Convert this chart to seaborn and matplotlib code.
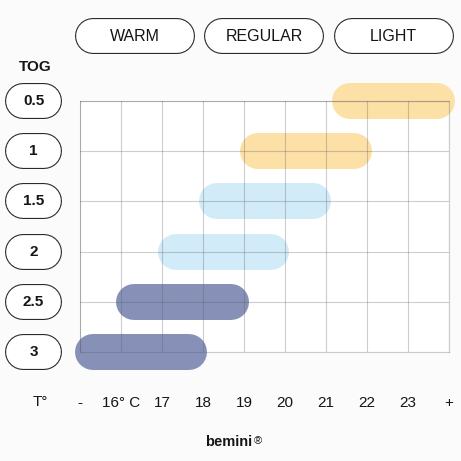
import matplotlib
matplotlib.use('Agg')
import matplotlib.pyplot as plt
import matplotlib.transforms as mtransforms
import seaborn as sns
import pandas as pd

# TOG rows, top to bottom, and the temperature span of each bar (visible edges, in °C scale)
tog_levels = ['0.5', '1', '1.5', '2', '2.5', '3']
temp_from = [21.15, 18.90, 17.90, 16.90, 15.88, 14.88]
temp_to = [24.15, 22.12, 21.12, 20.10, 19.12, 18.10]
weight = ['light', 'light', 'regular', 'regular', 'warm', 'warm']

# x axis: "-" and "+" sit at the ends of the scale
temp_ticks = [15, 16, 17, 18, 19, 20, 21, 22, 23, 24]
temp_labels = ['-', '16° C', '17', '18', '19', '20', '21', '22', '23', '+']

categories = ['WARM', 'REGULAR', 'LIGHT']

colors = {
    'warm': '#8791b8',
    'regular': '#d2ebf8',
    'light': '#fde0a6',
    'grid': '#5a5a5a',
    'ink': '#151515',
    'outline': '#2a2a2a',
}

sns.set_theme(style='white')
plt.rcParams['font.family'] = ['Liberation Sans', 'DejaVu Sans']

W = H = 461
fig = plt.figure(figsize=(W / 100, H / 100), dpi=100)
fig.patch.set_facecolor('#fbfbfc')

# overlay in pixel units for the labels and pills
deco = fig.add_axes([0, 0, 1, 1])
deco.set_xlim(0, W)
deco.set_ylim(H, 0)
deco.axis('off')

# main grid
x0, x1, y0, y1 = 80, 449, 101, 352
ax = fig.add_axes([x0 / W, 1 - y1 / H, (x1 - x0) / W, (y1 - y0) / H])
ax.set_facecolor('white')
ax.set_xlim(temp_ticks[0], temp_ticks[-1])
ax.set_ylim(len(tog_levels) - 1, 0)

bar_px = 36
px_per_deg = (x1 - x0) / (temp_ticks[-1] - temp_ticks[0])
cap = (bar_px / 2) / px_per_deg  # round caps stick out by half the line width

rows = []
for i, tog in enumerate(tog_levels):
    rows.append(dict(tog=tog, row=i, temp=temp_from[i] + cap, weight=weight[i]))
    rows.append(dict(tog=tog, row=i, temp=temp_to[i] - cap, weight=weight[i]))
df = pd.DataFrame(rows)

sns.lineplot(data=df, x='temp', y='row', units='tog', estimator=None,
             hue='weight', palette={k: colors[k] for k in ['warm', 'regular', 'light']},
             lw=bar_px * 0.72, solid_capstyle='round', clip_on=False,
             legend=False, ax=ax, zorder=2)

ax.set_xlim(temp_ticks[0], temp_ticks[-1])
ax.set_ylim(len(tog_levels) - 1, 0)
ax.set_xlabel('')
ax.set_ylabel('')

# grid on top of the bars, semi transparent
ax.set_axisbelow(False)
ax.set_xticks(temp_ticks)
ax.set_xticklabels(temp_labels)
ax.set_yticks(range(len(tog_levels)))
ax.set_yticklabels([])
ax.grid(True, color=colors['grid'], alpha=0.3, lw=0.8)
for s in ax.spines.values():
    s.set_visible(True)
    s.set_color(colors['grid'])
    s.set_alpha(0.3)
    s.set_linewidth(0.8)
ax.tick_params(axis='x', length=0, pad=32, labelsize=11, labelcolor=colors['ink'])
ax.tick_params(axis='y', length=0)


def pill(axis, xa, xb, y, trans, outer=36):
    axis.plot([xa, xb], [y, y], transform=trans, color=colors['outline'],
              lw=outer * 0.72, solid_capstyle='round', clip_on=False, zorder=5)
    axis.plot([xa, xb], [y, y], transform=trans, color='white',
              lw=(outer - 2.2) * 0.72, solid_capstyle='round', clip_on=False, zorder=6)


# TOG pills, x in pixels, y on the row scale
blend = mtransforms.blended_transform_factory(deco.transData, ax.transData)
for i, tog in enumerate(tog_levels):
    pill(ax, 23, 44, i, blend)
    ax.text(33.5, i, tog, transform=blend, ha='center', va='center',
            fontsize=11, fontweight='bold', color=colors['ink'], zorder=7)

# category header pills
for j, cat in enumerate(categories):
    cx = 135 + j * 129.3
    pill(deco, cx - 42, cx + 42, 36, deco.transData)
    deco.text(cx, 36.5, cat, ha='center', va='center', fontsize=11.5,
              color=colors['ink'], zorder=7)

deco.text(35, 67, 'TOG', ha='center', va='center', fontsize=11,
          fontweight='bold', color=colors['ink'])
deco.text(40, 402, 'T°', ha='center', va='center', fontsize=11, color=colors['ink'])

# brand mark, with a small registered sign
deco.text(252, 442, 'bemini', ha='right', va='center', fontsize=10.5,
          fontweight='bold', color=colors['ink'])
deco.text(254, 441, '®', ha='left', va='center', fontsize=8, color=colors['ink'])

plt.savefig('out.png', dpi=100, facecolor=fig.get_facecolor())
plt.close()
